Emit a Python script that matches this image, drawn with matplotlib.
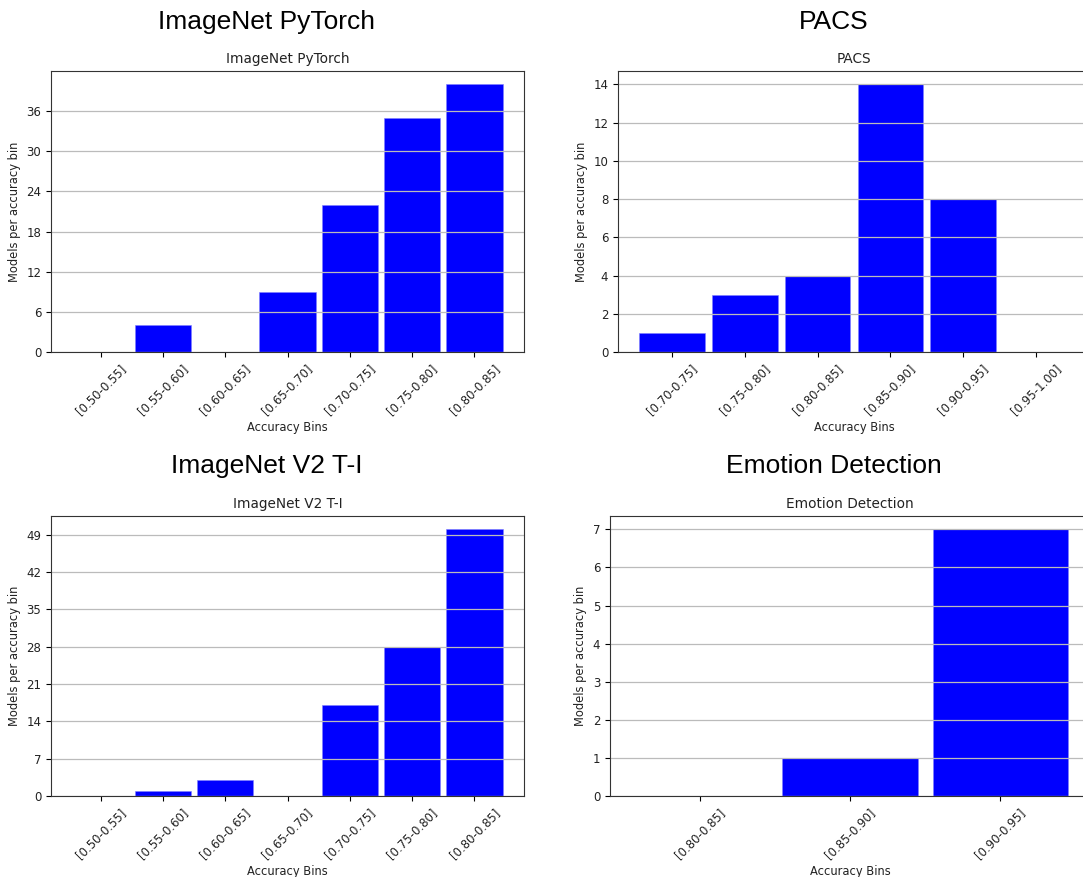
import numpy as np
import matplotlib
matplotlib.use("Agg")
import matplotlib.pyplot as plt

# bins and counts per dataset
titles = ["ImageNet PyTorch", "PACS", "ImageNet V2 T-I", "Emotion Detection"]

bins_pytorch = ["[0.50-0.55]", "[0.55-0.60]", "[0.60-0.65]", "[0.65-0.70]",
                "[0.70-0.75]", "[0.75-0.80]", "[0.80-0.85]"]
counts_pytorch = [0, 4, 0, 9, 22, 35, 40]

bins_pacs = ["[0.70-0.75]", "[0.75-0.80]", "[0.80-0.85]", "[0.85-0.90]",
             "[0.90-0.95]", "[0.95-1.00]"]
counts_pacs = [1, 3, 4, 14, 8, 0]

bins_v2 = ["[0.50-0.55]", "[0.55-0.60]", "[0.60-0.65]", "[0.65-0.70]",
           "[0.70-0.75]", "[0.75-0.80]", "[0.80-0.85]"]
counts_v2 = [0, 1, 3, 0, 17, 28, 50]

bins_emotion = ["[0.80-0.85]", "[0.85-0.90]", "[0.90-0.95]"]
counts_emotion = [0, 1, 7]

all_bins = [bins_pytorch, bins_pacs, bins_v2, bins_emotion]
all_counts = [counts_pytorch, counts_pacs, counts_v2, counts_emotion]

W, H = 1083, 877
fig = plt.figure(figsize=(W / 100, H / 100), dpi=100)

# axes boxes in pixels: left, right, top, bottom (right panels are cut at the edge)
boxes = [(51, 524, 71, 352), (618, 1090, 71, 352),
         (51, 524, 516, 796), (610, 1090, 516, 796)]
big_title_pos = [(267, 22), (834, 22), (267, 466), (834, 466)]

for i in range(4):
    l, r, t, b = boxes[i]
    ax = fig.add_axes([l / W, 1 - b / H, (r - l) / W, (b - t) / H])
    x = np.arange(len(all_bins[i]))
    ax.bar(x, all_counts[i], width=0.9, color="blue", edgecolor="#7f7fff", linewidth=0.4)
    ax.set_xticks(x)
    ax.set_xticklabels(all_bins[i], rotation=45, fontsize=8.5, color="#222222")
    mx = max(all_counts[i])
    step = max(1, round(mx / 7))
    ax.set_yticks(np.arange(0, mx + 1, step))
    ax.tick_params(axis="y", labelsize=8.5, labelcolor="#222222")
    ax.yaxis.grid(True, color="#bbbbbb", linewidth=0.9)
    for s in ax.spines.values():
        s.set_color("#333333")
    ax.set_title(titles[i], fontsize=9.8, color="#222222")
    ax.set_xlabel("Accuracy Bins", fontsize=8.3, labelpad=3, color="#222222")
    ax.set_ylabel("Models per accuracy bin", fontsize=8.3, color="#222222")
    px, py = big_title_pos[i]
    fig.text(px / W, 1 - py / H, titles[i], family="Liberation Sans",
             fontsize=19, ha="center", va="center")

fig.savefig("out.png", dpi=100)
